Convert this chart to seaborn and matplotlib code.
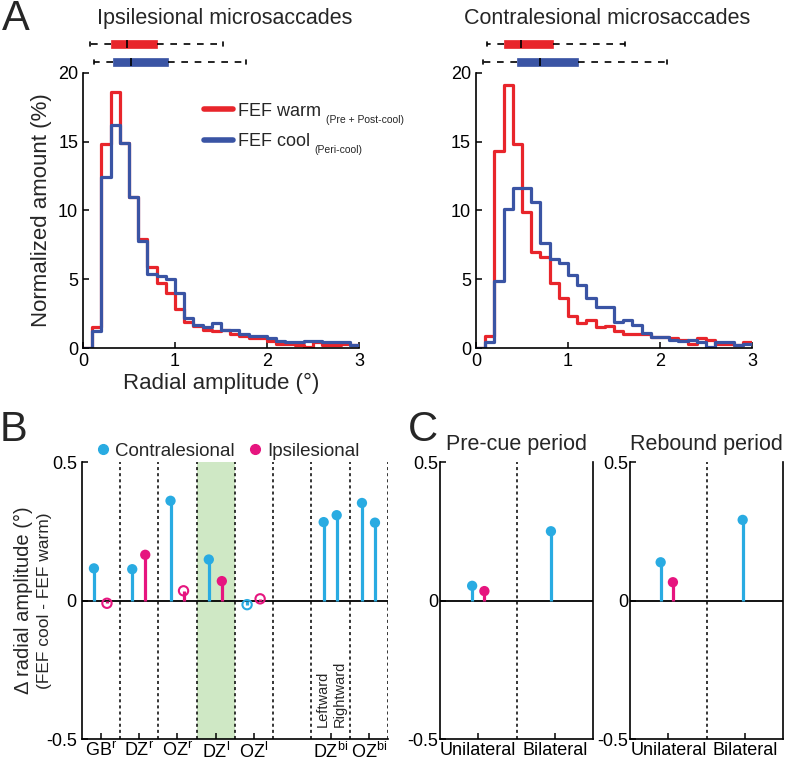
import matplotlib
matplotlib.use("Agg")
import matplotlib.pyplot as plt
from matplotlib.lines import Line2D
import numpy as np
import pandas as pd
import seaborn as sns

# ---- panel A: histograms, % of microsaccades per 0.1 deg bin (0-3 deg) ----
bin_edges = np.round(np.arange(0, 3.01, 0.1), 2)

ipsi_warm = [0, 1.5, 14.8, 18.6, 14.9, 11.0, 7.9, 5.9, 4.7, 4.0, 2.8, 1.9, 1.6, 1.3, 1.2,
             1.3, 1.0, 0.9, 0.7, 0.7, 0.5, 0.3, 0.3, 0.2, 0.1, 0.4, 0.2, 0.2, 0.3, 0.2]
ipsi_cool = [0, 1.2, 12.4, 16.2, 14.9, 11.0, 7.8, 5.4, 5.2, 5.0, 4.0, 2.2, 1.7, 1.5, 1.8,
             1.3, 1.3, 1.0, 0.9, 0.9, 0.7, 0.5, 0.4, 0.4, 0.5, 0.5, 0.4, 0.4, 0.4, 0.2]
contra_warm = [0, 0.9, 14.3, 19.1, 14.8, 9.9, 7.0, 6.6, 4.7, 3.6, 2.3, 1.8, 2.0, 1.5, 1.6,
               1.2, 1.0, 1.0, 1.0, 0.8, 0.8, 0.7, 0.6, 0.3, 0.7, 0.6, 0.3, 0.3, 0.2, 0.4]
contra_cool = [0, 0.4, 4.9, 10.1, 11.6, 11.6, 10.6, 7.6, 6.5, 6.2, 5.3, 4.6, 3.6, 3.0, 3.0,
               1.9, 2.0, 1.7, 1.1, 0.8, 0.8, 0.6, 0.5, 0.6, 0.4, 0.1, 0.4, 0.4, 0.2, 0.3]

# box summaries above the histograms: whisker low, q1, median, q3, whisker high
ipsi_warm_box = [0.08, 0.30, 0.48, 0.80, 1.52]
ipsi_cool_box = [0.12, 0.33, 0.52, 0.92, 1.77]
contra_warm_box = [0.12, 0.31, 0.49, 0.84, 1.62]
contra_cool_box = [0.08, 0.45, 0.70, 1.11, 2.08]

# ---- panel B: change in radial amplitude per zone ----
b_labels = ["GB$^{r}$", "DZ$^{r}$", "OZ$^{r}$", "DZ$^{l}$", "OZ$^{l}$", "DZ$^{bi}$", "OZ$^{bi}$"]
b_label_group = [0, 1, 2, 3, 4, 6, 7]
b_group = [0, 0, 1, 1, 2, 2, 3, 3, 4, 4, 6, 6, 7, 7]
b_slot = [0, 1, 0, 1, 0, 1, 0, 1, 0, 1, 0, 1, 0, 1]
b_side = ["Contralesional", "Ipsilesional"] * 5 + ["Contralesional"] * 4
b_value = [0.116, -0.010, 0.113, 0.165, 0.360, 0.035, 0.148, 0.070, -0.015, 0.006,
           0.283, 0.308, 0.352, 0.281]
b_signif = [1, 0, 1, 1, 1, 0, 1, 1, 0, 0, 1, 1, 1, 1]

# ---- panel C: pre-cue and rebound periods ----
c_period = ["Pre-cue period"] * 3 + ["Rebound period"] * 3
c_labels = ["Unilateral", "Bilateral"]
c_group = [0, 0, 1, 0, 0, 1]
c_offset = [-0.08, 0.08, -0.05, -0.10, 0.06, -0.03]
c_side = ["Contralesional", "Ipsilesional", "Contralesional"] * 2
c_value = [0.053, 0.034, 0.250, 0.138, 0.066, 0.291]

RED = "#e8252b"
BLUE = "#3a54a4"
CYAN = "#29abe2"
MAGENTA = "#e6157f"
SIDE_COLORS = {"Contralesional": CYAN, "Ipsilesional": MAGENTA}

sns.set_style("ticks")
plt.rcParams["font.family"] = ["Liberation Sans", "DejaVu Sans"]
plt.rcParams["mathtext.default"] = "regular"
plt.rcParams["axes.unicode_minus"] = False
plt.rcParams["xtick.direction"] = "in"
plt.rcParams["ytick.direction"] = "in"


def style_axis(ax):
    ax.tick_params(length=4, width=1.1, labelsize=13, colors="black")
    for s in ax.spines.values():
        s.set_linewidth(1.2)
        s.set_color("black")


def draw_hist(ax, warm, cool):
    hist_df = pd.DataFrame({"center": bin_edges[:-1] + 0.05, "warm": warm, "cool": cool})
    sns.histplot(data=hist_df, x="center", weights="warm", binwidth=0.1, binrange=(0, 3),
                 element="step", fill=False, color=RED, linewidth=2.3, ax=ax)
    sns.histplot(data=hist_df, x="center", weights="cool", binwidth=0.1, binrange=(0, 3),
                 element="step", fill=False, color=BLUE, linewidth=2.3, ax=ax)
    ax.set_xlim(0, 3)
    ax.set_ylim(0, 20)
    ax.set_xticks([0, 1, 2, 3])
    ax.set_yticks([0, 5, 10, 15, 20])
    ax.set_ylabel("")
    ax.set_xlabel("")
    sns.despine(ax=ax)
    style_axis(ax)


def draw_boxes(ax, warm_box, cool_box):
    for pos, box, col in [(1, warm_box, RED), (2, cool_box, BLUE)]:
        stats = [{"whislo": box[0], "q1": box[1], "med": box[2], "q3": box[3],
                  "whishi": box[4], "fliers": []}]
        ax.bxp(stats, positions=[pos], orientation="horizontal", widths=0.48,
               patch_artist=True, showfliers=False, capwidths=0.18,
               boxprops=dict(facecolor=col, edgecolor=col, linewidth=0.5),
               medianprops=dict(color="black", linewidth=1.2),
               whiskerprops=dict(color="black", linewidth=1.2, linestyle=(0, (4, 4))),
               capprops=dict(color="black", linewidth=1.2))
    ax.set_xlim(0, 3)
    ax.set_ylim(2.44, 0.5)
    ax.axis("off")


def draw_stems(ax, df):
    for _, r in df.iterrows():
        ax.plot([r["x"], r["x"]], [0, r["value"]], color=SIDE_COLORS[r["side"]],
                linewidth=2.3, solid_capstyle="butt", zorder=3)
    filled = df[df["signif"] == 1]
    sns.scatterplot(data=filled, x="x", y="value", hue="side", palette=SIDE_COLORS,
                    s=55, linewidth=0, legend=False, zorder=4, ax=ax)
    hollow = df[df["signif"] == 0]
    if len(hollow):
        ax.scatter(hollow["x"], hollow["value"], s=45, facecolors="none",
                   edgecolors=[SIDE_COLORS[s] for s in hollow["side"]], linewidths=1.5,
                   zorder=4)
    ax.set_xlabel("")
    ax.set_ylabel("")


fig = plt.figure(figsize=(7.87, 7.61), dpi=100)

# panel A
ax_a1 = fig.add_axes([0.1055, 0.5427, 0.3507, 0.3618])
ax_a2 = fig.add_axes([0.6048, 0.5427, 0.3507, 0.3618])
draw_hist(ax_a1, ipsi_warm, ipsi_cool)
draw_hist(ax_a2, contra_warm, contra_cool)
ax_a1.set_ylabel("Normalized amount (%)", fontsize=16, labelpad=4)
ax_a1.set_xlabel("Radial amplitude (°)", fontsize=16, labelpad=2)

box1 = fig.add_axes([0.1055, 0.908, 0.3507, 0.046])
box2 = fig.add_axes([0.6048, 0.908, 0.3507, 0.046])
draw_boxes(box1, ipsi_warm_box, ipsi_cool_box)
draw_boxes(box2, contra_warm_box, contra_cool_box)

fig.text(0.286, 0.976, "Ipsilesional microsaccades", ha="center", va="center", fontsize=15.5)
fig.text(0.771, 0.976, "Contralesional microsaccades", ha="center", va="center", fontsize=15.5)

handles = [Line2D([], [], color=RED, linewidth=4), Line2D([], [], color=BLUE, linewidth=4)]
leg = ax_a1.legend(handles, ["FEF warm", "FEF cool"], loc="upper left",
                   bbox_to_anchor=(0.38, 0.95), frameon=False, fontsize=13,
                   handlelength=1.6, handletextpad=0.3, labelspacing=0.75)
for txt, sub in zip(leg.get_texts(), ["(Pre + Post-cool)", "(Peri-cool)"]):
    ax_a1.annotate(sub, xy=(1, 0.3), xycoords=txt, xytext=(3, 0),
                   textcoords="offset points", fontsize=7.5, va="top", ha="left",
                   annotation_clip=False, zorder=10)

# panel B
b_df = pd.DataFrame({"group": b_group, "slot": b_slot, "side": b_side,
                     "value": b_value, "signif": b_signif})
b_df["x"] = b_df["group"] + 0.32 + 0.34 * b_df["slot"]

ax_b = fig.add_axes([0.1038, 0.0289, 0.3892, 0.364])
ax_b.axvspan(3, 4, color="#cfe8c5", zorder=0, linewidth=0)
for xv in range(1, 9):
    ax_b.axvline(xv, color="black", linewidth=1.1, linestyle=(0, (2, 2)), zorder=1)
ax_b.axhline(0, color="black", linewidth=1.3, zorder=2)
draw_stems(ax_b, b_df)
ax_b.set_xlim(0, 8)
ax_b.set_ylim(-0.5, 0.5)
ax_b.set_yticks([-0.5, 0, 0.5])
ax_b.set_yticklabels(["-0.5", "0", "0.5"])
ax_b.set_xticks([g + 0.5 for g in b_label_group])
ax_b.set_xticklabels(b_labels)
sns.despine(ax=ax_b)
style_axis(ax_b)
ax_b.tick_params(axis="x", pad=2)
ax_b.text(6.29, -0.455, "Leftward", rotation=90, ha="center", va="bottom", fontsize=10.5)
ax_b.text(6.74, -0.455, "Rightward", rotation=90, ha="center", va="bottom", fontsize=10.5)
ax_b.text(-0.19, 0.5, "Δ radial amplitude (°)", rotation=90, ha="center", va="center",
          fontsize=14.5, transform=ax_b.transAxes)
ax_b.text(-0.12, 0.5, "(FEF cool - FEF warm)", rotation=90, ha="center", va="center",
          fontsize=12.5, transform=ax_b.transAxes)
b_handles = [Line2D([], [], marker="o", linestyle="", color=CYAN, markersize=7),
             Line2D([], [], marker="o", linestyle="", color=MAGENTA, markersize=7)]
ax_b.legend(b_handles, ["Contralesional", "Ipsilesional"], ncol=2, loc="lower center",
            bbox_to_anchor=(0.47, 0.975), frameon=False, fontsize=13.5,
            handletextpad=0.05, columnspacing=0.5, handlelength=1.2, borderpad=0)

# panel C
c_df = pd.DataFrame({"period": c_period, "group": c_group, "offset": c_offset,
                     "side": c_side, "value": c_value, "signif": 1})
c_df["x"] = c_df["group"] + 0.5 + c_df["offset"]
c_rects = {"Pre-cue period": [0.5591, 0.0289, 0.1944, 0.364],
           "Rebound period": [0.8005, 0.0289, 0.1948, 0.364]}
for period, rect in c_rects.items():
    ax = fig.add_axes(rect)
    ax.axvline(1, color="black", linewidth=1.1, linestyle=(0, (2, 2)), zorder=1)
    ax.axhline(0, color="black", linewidth=1.3, zorder=2)
    draw_stems(ax, c_df[c_df["period"] == period])
    ax.set_xlim(0, 2)
    ax.set_ylim(-0.5, 0.5)
    ax.set_yticks([-0.5, 0, 0.5])
    ax.set_yticklabels(["-0.5", "0", "0.5"])
    ax.set_xticks([0.5, 1.5])
    ax.set_xticklabels(c_labels)
    ax.spines["top"].set_visible(False)
    style_axis(ax)
    ax.tick_params(axis="x", pad=2)
    ax.tick_params(axis="y", pad=1)
    ax.set_title(period, fontsize=15.5, pad=9)

fig.text(0.003, 0.975, "A", fontsize=30, va="center", ha="left")
fig.text(0.0, 0.435, "B", fontsize=30, va="center", ha="left")
fig.text(0.518, 0.435, "C", fontsize=30, va="center", ha="left")

fig.savefig("out.png", dpi=100)
